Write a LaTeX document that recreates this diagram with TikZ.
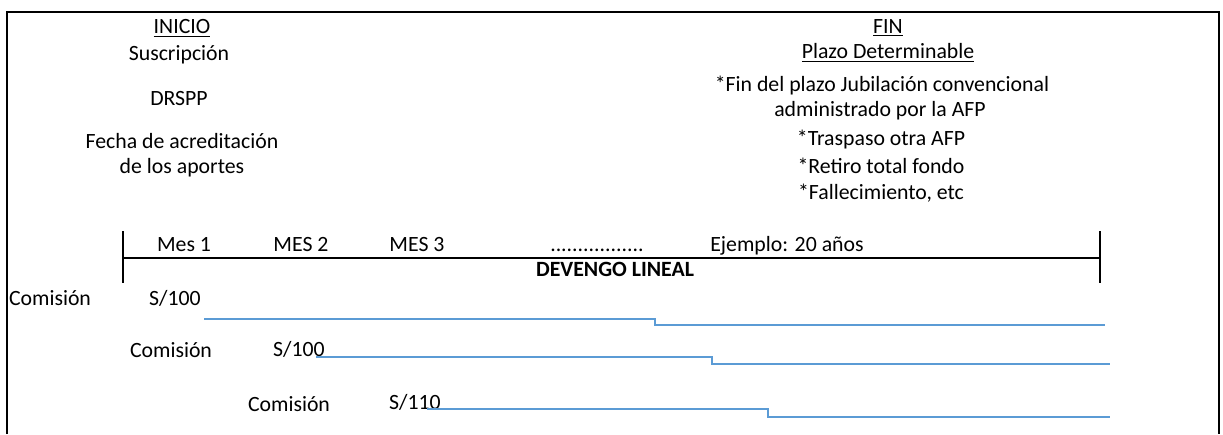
\documentclass[tikz,border=0pt]{standalone}
\usepackage{fontspec}
\setmainfont{Carlito}
\usepackage{xcolor}
\usetikzlibrary{positioning}
\definecolor{lineblue}{RGB}{91,155,213}

\begin{document}
\begin{tikzpicture}[x=0.02cm,y=-0.02cm,
  txt/.style={inner sep=0pt,font=\fontsize{12.4}{14}\selectfont},
  lbl/.style={txt,anchor=base},
  frame/.style={line width=1.6pt},
  tick/.style={line width=1.1pt},
  devengo/.style={draw=lineblue,line width=0.8pt}]
  \useasboundingbox (0,0) rectangle (1223,434);

  % marco
  \draw[line width=1.2pt] (7,434) -- (7,12);
  \draw[frame] (6,12) -- (1219,12) -- (1219,434);

  % inicio
  \node[txt] (inicio) at (182,28) {\underline{INICIO}};
  \node[txt] (suscr) at (179,55) {Suscripción};
  \node[txt] (drspp) at (179,98) {DRSPP};
  \node[txt] (fecha) at (182,141) {Fecha de acreditación};
  \node[txt] (aportes) at (182,168) {de los aportes};

  % fin
  \node[txt] (fin) at (888,28) {\underline{FIN}};
  \node[txt] (plazo) at (888,53) {\underline{Plazo Determinable}};
  \node[txt] (jubil) at (882,86) {*Fin del plazo Jubilación convencional};
  \node[txt] (admin) at (880,111) {administrado por la AFP};
  \node[txt] (trasp) at (881,140) {*Traspaso otra AFP};
  \node[txt] (retiro) at (881,166) {*Retiro total fondo};
  \node[txt] (fallec) at (881,193) {*Fallecimiento, etc};

  % linea de tiempo
  \coordinate (tl) at (123,258);
  \coordinate (tr) at (1100,258);
  \draw[frame] (tl) -- (tr);
  \draw[tick] (123,231) -- (123,283);
  \draw[tick] (1100,231) -- (1100,283);
  \node[lbl] (mes1) at (184,251) {Mes 1};
  \node[lbl] (mes2) at (301,251) {MES 2};
  \node[lbl] (mes3) at (417,251) {MES 3};
  \node[lbl] (dots) at (597,251) {.................};
  \node[lbl] (ejem) at (787,251) {Ejemplo: 20 años};
  \node[lbl,font=\fontsize{12.4}{14}\selectfont\bfseries] (deveng) at (615,276) {DEVENGO LINEAL};

  % comisiones
  \node[lbl] (com1) at (50,305) {Comisión};
  \node[lbl] (val1) at (175,305) {S/100};
  \node[lbl] (com2) at (171,357) {Comisión};
  \node[lbl] (val2) at (299,356) {S/100};
  \node[lbl] (com3) at (289,411) {Comisión};
  \node[lbl] (val3) at (415,409) {S/110};

  \foreach \n/\xa/\ya/\xb/\yb/\xc in {1/204/319/655/325/1105,2/316/357/712/364/1110,3/427/409/768/417/1110}{
    \coordinate (s\n) at (\xa,\ya);
    \coordinate (k\n) at (\xb,\yb);
    \coordinate (e\n) at (\xc,\yb);
    \draw[devengo] (s\n) -| (k\n) -- (e\n);
  }
\end{tikzpicture}
\end{document}
